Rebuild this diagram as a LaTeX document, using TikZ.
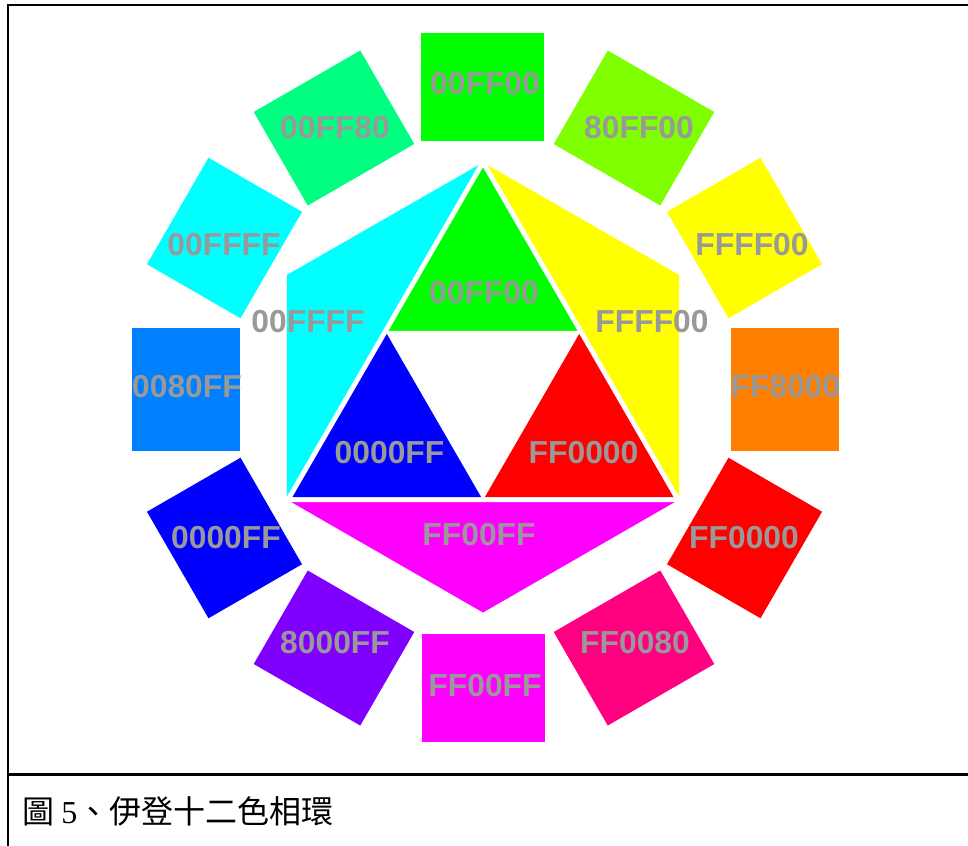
\documentclass[tikz,border=0pt]{standalone}
\usepackage{fontspec}
\setmainfont{Liberation Sans}
\newfontfamily\cjkfont{Noto Sans CJK TC}
\newfontfamily\numfont{Liberation Serif}
\definecolor{labelgray}{RGB}{153,153,153}
\definecolor{cGreen}{HTML}{00FF00}
\definecolor{cCyan}{HTML}{00FFFF}
\definecolor{cYellow}{HTML}{FFFF00}
\definecolor{cMagenta}{HTML}{FF00FF}
\definecolor{cBlue}{HTML}{0000FF}
\definecolor{cRed}{HTML}{FF0000}
\definecolor{tilecol}{HTML}{000000}
\begin{document}
\begin{tikzpicture}[x=1pt,y=-1pt,
  lbl/.style={text=labelgray,font=\fontsize{31.8}{31.8}\selectfont\bfseries,inner sep=0pt},
  tile/.style={minimum width=123pt,minimum height=108pt,inner sep=0pt,outer sep=0pt},
  frameline/.style={line width=2.2pt,black},
  gapline/.style={white,line join=miter}]
\useasboundingbox (0,0) rectangle (968,845);

% frame
\coordinate (f1) at (7.7,846);
\coordinate (f2) at (7.7,5);
\coordinate (f3) at (972,5);
\draw[frameline] (f1) -- (f2) -- (f3);
\coordinate (d1) at (7.7,774.5);
\coordinate (d2) at (972,774.5);
\draw[frameline] (d1) -- (d2);

% outer tiles
\foreach \a/\c/\px/\py in {90/00FF00/482/87.5, 60/80FF00/634/128, 30/FFFF00/744.5/238, 0/FF8000/784.5/389.5, -30/FF0000/744.5/538, -60/FF0080/634/648, -90/FF00FF/483.5/687.5, -120/8000FF/334/648, -150/0000FF/224.5/538, 180/0080FF/186/389.5, 150/00FFFF/224.5/238, 120/00FF80/334/128}{
  \definecolor{tilecol}{HTML}{\c}
  \node[tile,fill=tilecol,rotate=\a-90] (tile\c) at (\px,\py) {};
}

% hexagon and triangle geometry
\coordinate (hc) at (483,387.5);
\coordinate (h90) at (483,162.5);
\coordinate (h150) at (286.8,275);
\coordinate (h210) at (286.8,499.5);
\coordinate (h270) at (483,612.5);
\coordinate (h330) at (679.2,499.5);
\coordinate (h30) at (679.2,275);
\coordinate (T) at (483,167.5);
\coordinate (BL) at (292.5,497);
\coordinate (BR) at (673.5,497);
\coordinate (mL) at (387.75,332.25);
\coordinate (mR) at (578.25,332.25);
\coordinate (mB) at (483,497);

\fill[cCyan] (h90) -- (h150) -- (h210) -- (hc) -- cycle;
\fill[cYellow] (h90) -- (h30) -- (h330) -- (hc) -- cycle;
\fill[cMagenta] (h210) -- (h270) -- (h330) -- (hc) -- cycle;
\filldraw[gapline,line width=10pt] (T) -- (BL) -- (BR) -- cycle;
\fill[cGreen] (T) -- (mL) -- (mR) -- cycle;
\fill[cBlue] (mL) -- (BL) -- (mB) -- cycle;
\fill[cRed] (mR) -- (mB) -- (BR) -- cycle;
\draw[gapline,line width=3pt] (mL) -- (mR) -- (mB) -- cycle;

% inner labels
\node[lbl] (iG) at (484,293) {00FF00};
\node[lbl] (iY) at (652,322) {FFFF00};
\node[lbl] (iC) at (308,322) {00FFFF};
\node[lbl] (iB) at (389.5,453) {0000FF};
\node[lbl] (iR) at (583.5,453) {FF0000};
\node[lbl] (iM) at (479,535) {FF00FF};

% outer labels
\foreach \c/\lx/\ly in {00FF00/485/84, 80FF00/639/128, FFFF00/752/245, FF8000/785.5/387, FF0000/744/538, FF0080/635/643, FF00FF/485/686, 8000FF/335/643, 0000FF/226/538, 0080FF/187/387, 00FFFF/224/245, 00FF80/335/128}{
  \node[lbl] (lab\c) at (\lx,\ly) {\c};
}

% caption
\node[anchor=west,inner sep=0pt,font=\cjkfont\fontsize{32}{32}\selectfont] (cap) at (22,811) {圖 {\numfont 5}、伊登十二色相環};
\end{tikzpicture}
\end{document}
